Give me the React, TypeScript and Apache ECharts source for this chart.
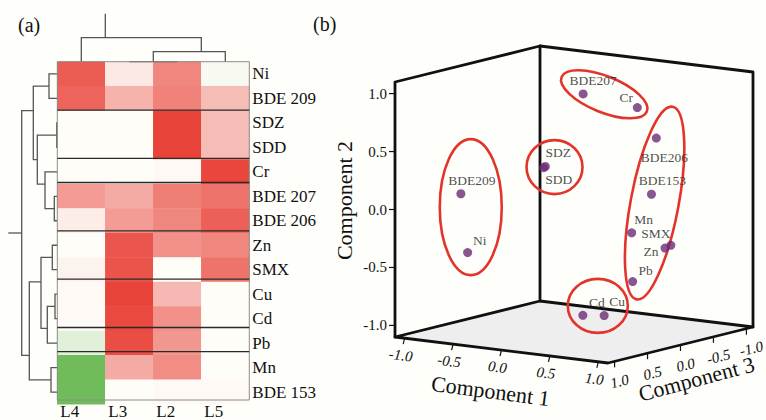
import React, { useEffect, useRef } from 'react';
import * as echarts from 'echarts';

const FONT = '"Liberation Serif", "Times New Roman", serif';

// ---------- panel (a): heatmap + dendrograms ----------
const columns = ['L4', 'L3', 'L2', 'L5'];
const rows = ['Ni', 'BDE 209', 'SDZ', 'SDD', 'Cr', 'BDE 207', 'BDE 206', 'Zn', 'SMX', 'Cu', 'Cd', 'Pb', 'Mn', 'BDE 153'];
const heatL4 = [0.82, 0.78, 0, 0, 0, 0.5, 0.08, 0, 0.05, 0.02, 0.01, -0.18, -0.88, -0.88];
const heatL3 = [0.1, 0.38, 0, 0, 0, 0.42, 0.5, 0.85, 0.86, 0.95, 0.92, 0.9, 0.42, 0];
const heatL2 = [0.6, 0.63, 0.95, 0.95, 0.02, 0.65, 0.6, 0.55, 0, 0.35, 0.55, 0.52, 0.57, 0.02];
const heatL5 = [-0.04, 0.33, 0.33, 0.33, 0.93, 0.7, 0.8, 0.6, 0.7, 0, 0, 0, 0, 0.02];
const rowClusters = [1, 1, 2, 2, 3, 4, 4, 5, 5, 6, 6, 7, 8, 8];

// merges: [posA, heightA, posB, heightB, mergeHeight, stemPos]
const topMerges = [
  [1.5, 0, 2.5, 0, 0, 2.0],
  [2.0, 0, 3.5, 0, 10, 3.0],
  [0.5, 0, 3.0, 10, 24, 1.0],
];
const topRoot = [1.0, 24, 48];
const leftMerges = [
  [0.5, 0, 1.5, 0, 8.3, 1.0],
  [2.5, 0, 3.5, 0, 0.5, 3.0],
  [5.5, 0, 6.5, 0, 3, 6.0],
  [4.5, 0, 6.0, 3, 12.3, 5.0],
  [3.0, 0.5, 5.0, 12.3, 20, 4.0],
  [1.0, 8.3, 4.0, 20, 24, 2.0],
  [7.5, 0, 8.5, 0, 5, 8.0],
  [9.5, 0, 10.5, 0, 2.3, 10.0],
  [10.0, 2.3, 11.5, 0, 10, 10.9],
  [8.0, 5, 10.9, 10, 16.3, 9.0],
  [12.5, 0, 13.5, 0, 6.3, 13.0],
  [9.0, 16.3, 13.0, 6.3, 28, 12.0],
  [2.0, 24, 12.0, 28, 35.6, 7.0],
];
const leftRoot = [7.0, 35.6, 49];

// ---------- panel (b): 3-D component plot ----------
const pointNames = ['BDE207', 'Cr', 'BDE206', 'BDE153', 'SDZ', 'SDD', 'BDE209', 'Ni', 'Mn', 'SMX', 'Zn', 'Pb', 'Cd', 'Cu'];
const comp1 = [-0.11, 0.45, 0.85, 0.8, -0.16, -0.17, -0.76, -0.69, 0.8, 1.0, 0.94, 0.81, 0.5, 0.72];
const comp2 = [0.9, 0.84, 0.66, 0.17, 0.34, 0.33, 0.1, -0.4, -0.12, -0.25, -0.28, -0.54, -0.82, -0.8];
const comp3 = [-0.3, -0.3, 0.0, 0.0, 0.2, 0.21, 0.6, 0.6, 0.3, 0.0, 0.0, 0.3, 0.6, 0.6];
const axisTicks = [-1.0, -0.5, 0.0, 0.5, 1.0];
const groups = [
  ['BDE207', 'Cr'],
  ['SDZ', 'SDD'],
  ['BDE209', 'Ni'],
  ['BDE206', 'BDE153', 'Mn', 'SMX', 'Zn', 'Pb'],
  ['Cd', 'Cu'],
];

// ---------- styles / layout ----------
const labelOffsets: Record<string, number[]> = {
  BDE207: [10, -13], Cr: [-11, -10], BDE206: [8, 19], BDE153: [11, -14],
  SDZ: [13, -14], SDD: [15, 12], BDE209: [11, -13], Ni: [12, -12],
  Mn: [12, -13], SMX: [-15, -12], Zn: [-14, 3], Pb: [13, -11], Cd: [14, -13], Cu: [13, -14],
};
// [dx, dy, rx, ry, rotationDeg]
const ellipseShapes = [
  [-6, -6.5, 46, 18, -22],
  [10, 0, 28, 27, 0],
  [6.5, -16, 31, 68, 0],
  [3.3, -20.3, 24, 98, -10.6],
  [4.3, -9.5, 30, 27, 0],
];
const HEAT = { left: 57.3, top: 61.7, width: 192, height: 342.6 };
const BOX = { ox: 395, oy: 337, ax: 213, ay: 26, bx: 145, by: -36, cy: -255, lo: -1.1, hi: 1.1 };

function project(c1: number, c2: number, c3: number): number[] {
  const span = BOX.hi - BOX.lo;
  const u = (c1 - BOX.lo) / span;
  const w = (BOX.hi - c3) / span;
  const v = (c2 - BOX.lo) / span;
  return [BOX.ox + BOX.ax * u + BOX.bx * w, BOX.oy + BOX.ay * u + BOX.by * w + BOX.cy * v];
}

const dendroStyle = { stroke: '#555', lineWidth: 1.3, fill: 'none' };

function buildOption(): any {
  const heatCols = [heatL4, heatL3, heatL2, heatL5];
  const heatData: number[][] = [];
  heatCols.forEach((col, ci) => col.forEach((v, ri) => heatData.push([ci, ri, v])));
  const breaks: number[][] = [];
  for (let i = 1; i < rowClusters.length; i++) if (rowClusters[i] !== rowClusters[i - 1]) breaks.push([0, i]);

  const lo = BOX.lo, hi = BOX.hi;
  const deg = Math.PI / 180;
  const topAll = topMerges.concat([[topRoot[0], topRoot[1], topRoot[0], topRoot[2], topRoot[2], topRoot[0]]]);
  const leftAll = leftMerges.concat([[leftRoot[0], leftRoot[1], leftRoot[0], leftRoot[2], leftRoot[2], leftRoot[0]]]);

  return {
    animation: false,
    backgroundColor: '#FEFEFB',
    grid: [
      { ...HEAT },
      { ...HEAT },
      { left: HEAT.left, width: HEAT.width, top: 13.3, height: 48.4 },
      { left: 0, width: HEAT.left, top: HEAT.top, height: HEAT.height },
      { left: 0, top: 0, width: 766, height: 420 },
    ],
    xAxis: [
      { type: 'category', gridIndex: 0, data: columns, show: false },
      {
        type: 'value', gridIndex: 1, min: 0, max: 4, interval: 1, position: 'bottom',
        axisLine: { show: false }, axisTick: { show: false }, splitLine: { show: false },
        axisLabel: {
          margin: 3, align: 'left', padding: [0, 0, 0, 3], fontSize: 17, fontFamily: FONT, color: '#111',
          formatter: (v: number) => columns[v] ?? '',
        },
      },
      { type: 'value', gridIndex: 2, min: 0, max: 4, show: false },
      { type: 'value', gridIndex: 3, min: 0, max: HEAT.left, inverse: true, show: false },
      { type: 'value', gridIndex: 4, min: 0, max: 766, show: false },
    ],
    yAxis: [
      {
        type: 'category', gridIndex: 0, data: rows, inverse: true, position: 'right',
        axisLine: { show: false }, axisTick: { show: false },
        axisLabel: { margin: 3, align: 'left', fontSize: 17, fontFamily: FONT, color: '#111' },
      },
      { type: 'value', gridIndex: 1, min: 0, max: 14, inverse: true, show: false },
      { type: 'value', gridIndex: 2, min: 0, max: 48.4, show: false },
      { type: 'value', gridIndex: 3, min: 0, max: 14, inverse: true, show: false },
      { type: 'value', gridIndex: 4, min: 0, max: 420, inverse: true, show: false },
    ],
    visualMap: {
      type: 'continuous', show: false, seriesIndex: 0, min: -1, max: 1,
      inRange: { color: ['#5DB345', '#FEFDF8', '#E7392F'] },
    },
    graphic: [
      { type: 'text', left: 18, top: 15, style: { text: '(a)', font: `20px ${FONT}`, fill: '#111' } },
      { type: 'text', left: 313, top: 14, style: { text: '(b)', font: `20px ${FONT}`, fill: '#111' } },
    ],
    series: [
      {
        type: 'heatmap', xAxisIndex: 0, yAxisIndex: 0, data: heatData,
        itemStyle: { borderWidth: 0 }, emphasis: { disabled: true }, z: 1,
      },
      {
        type: 'custom', xAxisIndex: 1, yAxisIndex: 1, data: [[0, 0]], z: 3, silent: true,
        renderItem: (_p: any, api: any) => {
          const a = api.coord([0, 0]);
          const b = api.coord([4, 14]);
          return {
            type: 'rect', shape: { x: a[0], y: a[1], width: b[0] - a[0], height: b[1] - a[1] },
            style: { fill: 'none', stroke: '#8c8c8c', lineWidth: 1 },
          };
        },
      },
      {
        type: 'custom', xAxisIndex: 1, yAxisIndex: 1, data: breaks, z: 4, silent: true,
        renderItem: (_p: any, api: any) => {
          const k = api.value(1);
          const a = api.coord([0, k]);
          const b = api.coord([4, k]);
          return { type: 'line', shape: { x1: a[0], y1: a[1], x2: b[0], y2: b[1] }, style: { stroke: '#2a2a2a', lineWidth: 1.3 } };
        },
      },
      {
        type: 'custom', xAxisIndex: 2, yAxisIndex: 2, data: topAll, silent: true,
        renderItem: (p: any, api: any) => {
          const m = topAll[p.dataIndex];
          const pts = [[m[0], m[1]], [m[0], m[4]], [m[2], m[4]], [m[2], m[3]]].map((q) => api.coord(q));
          return { type: 'polyline', shape: { points: pts }, style: dendroStyle };
        },
      },
      {
        type: 'custom', xAxisIndex: 3, yAxisIndex: 3, data: leftAll, silent: true,
        renderItem: (p: any, api: any) => {
          const m = leftAll[p.dataIndex];
          const pts = [[m[1], m[0]], [m[4], m[0]], [m[4], m[2]], [m[3], m[2]]].map((q) => api.coord(q));
          return { type: 'polyline', shape: { points: pts }, style: dendroStyle };
        },
      },
      // 3-D box with axes
      {
        type: 'custom', xAxisIndex: 4, yAxisIndex: 4, data: [[0, 0]], z: 1, silent: true,
        renderItem: (_p: any, api: any) => {
          const P = (a: number, b: number, c: number) => api.coord(project(a, b, c));
          const f0 = P(lo, lo, hi), f1 = P(hi, lo, hi), b0 = P(lo, lo, lo), b1 = P(hi, lo, lo);
          const f0t = P(lo, hi, hi), b0t = P(lo, hi, lo), b1t = P(hi, hi, lo);
          const edge = { stroke: '#111', lineWidth: 2.8, lineJoin: 'round', lineCap: 'round', fill: 'none' };
          const tickStyle = { stroke: '#111', lineWidth: 1.2 };
          const tickFont = `15px ${FONT}`;
          const italicFont = `italic 15px ${FONT}`;
          const titleFont = `22px ${FONT}`;
          const children: any[] = [
            { type: 'polygon', shape: { points: [f0, b0, b1, f1] }, style: { fill: '#EEEEEE' } },
            { type: 'polyline', shape: { points: [f0, f0t, b0t, b1t, b1] }, style: edge },
            { type: 'polyline', shape: { points: [b0t, b0] }, style: edge },
            { type: 'polyline', shape: { points: [f0, b0, b1, f1, f0] }, style: edge },
          ];
          axisTicks.forEach((t) => {
            const label = t.toFixed(1);
            // component 2 (vertical)
            const p2 = P(lo, t, hi);
            children.push({ type: 'line', shape: { x1: p2[0] - 6, y1: p2[1], x2: p2[0], y2: p2[1] }, style: tickStyle });
            children.push({
              type: 'text', x: p2[0] - 8, y: p2[1],
              style: { text: label, font: tickFont, fill: '#111', align: 'right', verticalAlign: 'middle' },
            });
            // component 1
            const p1 = P(t, lo, hi);
            children.push({ type: 'line', shape: { x1: p1[0], y1: p1[1], x2: p1[0] - 1.5, y2: p1[1] + 6 }, style: tickStyle });
            children.push({
              type: 'text', x: p1[0] - 4, y: p1[1] + 17, rotation: -7 * deg,
              style: { text: label, font: italicFont, fill: '#111', align: 'center', verticalAlign: 'middle' },
            });
            // component 3
            const p3 = P(hi, lo, t);
            children.push({ type: 'line', shape: { x1: p3[0], y1: p3[1], x2: p3[0], y2: p3[1] + 6 }, style: tickStyle });
            children.push({
              type: 'text', x: p3[0] + 5, y: p3[1] + 20, rotation: 14 * deg,
              style: { text: label, font: italicFont, fill: '#111', align: 'center', verticalAlign: 'middle' },
            });
          });
          const t2 = P(lo, 0, hi);
          children.push({
            type: 'text', x: t2[0] - 51, y: t2[1] - 9, rotation: 90 * deg,
            style: { text: 'Component 2', font: titleFont, fill: '#111', align: 'center', verticalAlign: 'middle' },
          });
          const t1 = P(0, lo, hi);
          children.push({
            type: 'text', x: t1[0] - 11, y: t1[1] + 41, rotation: -7.5 * deg,
            style: { text: 'Component 1', font: titleFont, fill: '#111', align: 'center', verticalAlign: 'middle' },
          });
          const t3 = P(hi, lo, 0);
          children.push({
            type: 'text', x: t3[0] + 16, y: t3[1] + 34, rotation: 15 * deg,
            style: { text: 'Component 3', font: titleFont, fill: '#111', align: 'center', verticalAlign: 'middle' },
          });
          return { type: 'group', children };
        },
      },
      // group ellipses
      {
        type: 'custom', xAxisIndex: 4, yAxisIndex: 4, data: groups.map((_g, i) => [i, 0]), z: 3, silent: true,
        renderItem: (p: any, api: any) => {
          const g = groups[p.dataIndex];
          const s = ellipseShapes[p.dataIndex];
          let sx = 0, sy = 0;
          g.forEach((n) => {
            const i = pointNames.indexOf(n);
            const q = api.coord(project(comp1[i], comp2[i], comp3[i]));
            sx += q[0];
            sy += q[1];
          });
          return {
            type: 'ellipse', x: sx / g.length + s[0], y: sy / g.length + s[1], rotation: s[4] * deg,
            shape: { cx: 0, cy: 0, rx: s[2], ry: s[3] },
            style: { fill: 'none', stroke: '#E3342B', lineWidth: 2.6 },
          };
        },
      },
      {
        type: 'scatter', xAxisIndex: 4, yAxisIndex: 4, z: 4, symbol: 'circle', symbolSize: 9,
        itemStyle: { color: '#6B2C76' }, emphasis: { disabled: true },
        label: { show: true, position: 'inside', formatter: '{b}', fontSize: 13.5, fontFamily: FONT, color: '#1a1a1a' },
        data: pointNames.map((n, i) => ({
          name: n,
          value: project(comp1[i], comp2[i], comp3[i]),
          label: { offset: labelOffsets[n] },
        })),
      },
    ],
  };
}

export default function App() {
  const ref = useRef<HTMLDivElement>(null);
  useEffect(() => {
    if (!ref.current) return;
    const chart = echarts.init(ref.current, null, { renderer: 'svg' });
    chart.setOption(buildOption());
    return () => chart.dispose();
  }, []);
  return <div ref={ref} style={{ position: 'absolute', left: 0, top: 0, width: 766, height: 420 }} />;
}
